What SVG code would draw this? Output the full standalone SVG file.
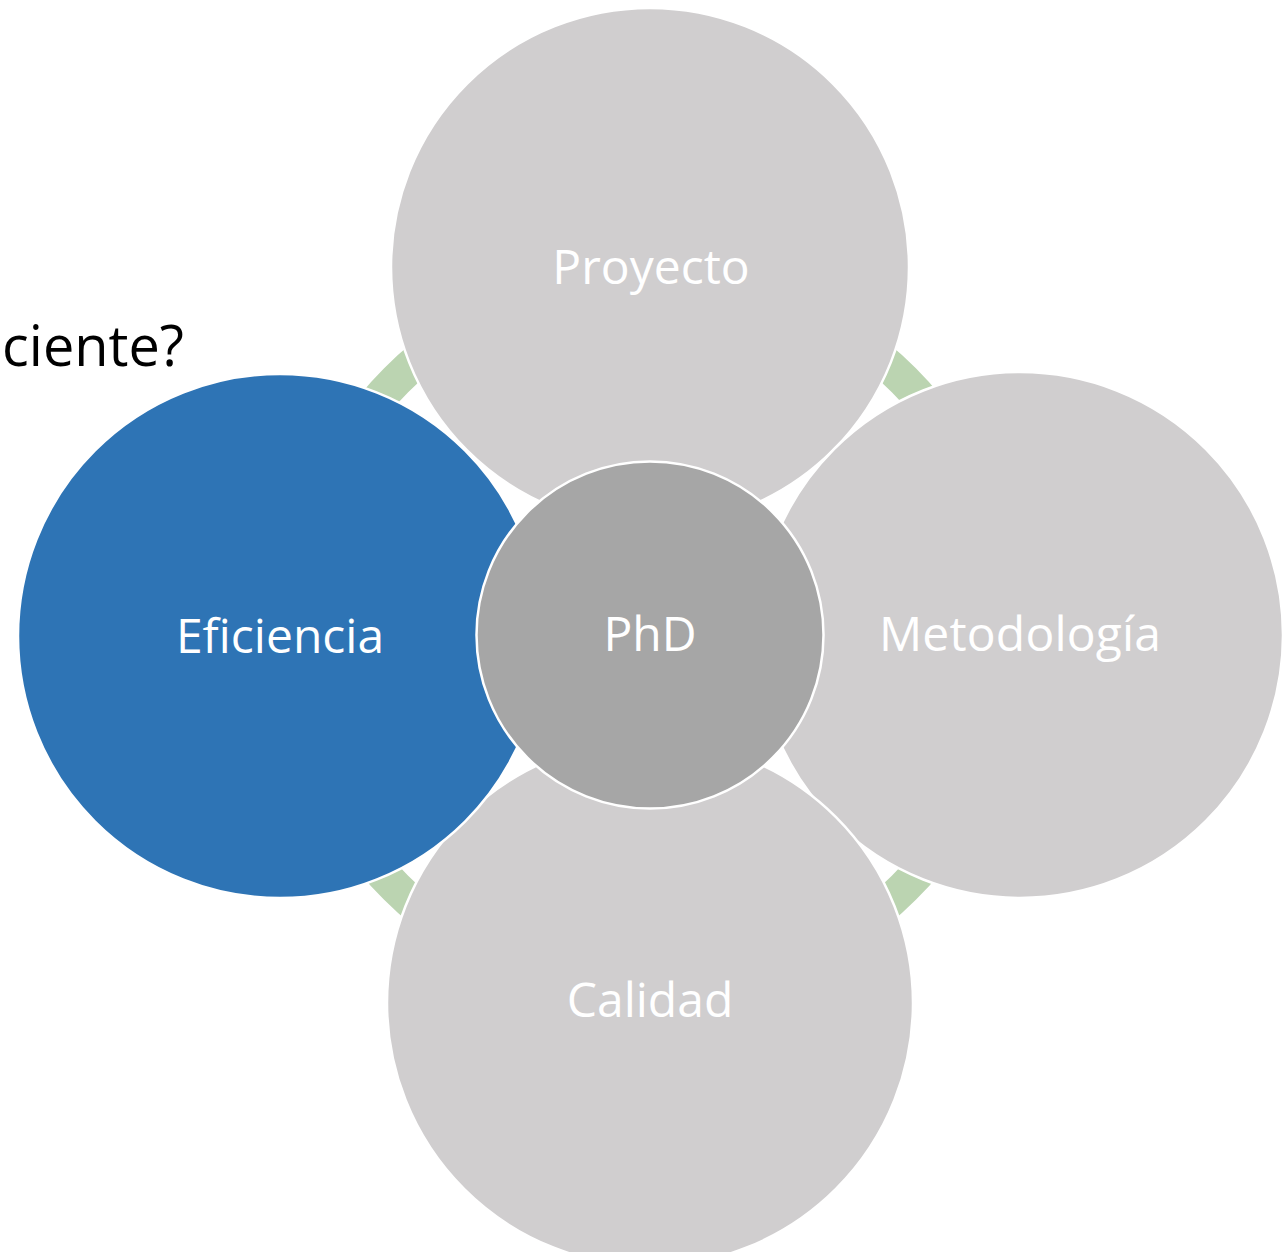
<svg xmlns="http://www.w3.org/2000/svg" width="1283" height="1252" viewBox="0 0 1283 1252">
<style>
.outer{fill:#D0CECF;stroke:#FFFFFF;stroke-width:2.5}
.blue{fill:#2E74B5;stroke:#FFFFFF;stroke-width:2.5}
.center{fill:#A6A6A6;stroke:#FFFFFF;stroke-width:2.5}
.lbl{font-family:"Open Sans","Noto Sans",sans-serif;font-size:48px;fill:#FFFFFF;text-anchor:middle}
.title{font-family:"Open Sans","Noto Sans",sans-serif;font-size:57px;fill:#000000}
</style>
<rect width="1283" height="1252" fill="#FFFFFF"/>
<g id="connectors">
<circle cx="650" cy="634" r="359" fill="none" stroke="#BBD4B1" stroke-width="34"/>
</g>
<g id="node-proyecto">
<circle class="outer" cx="650" cy="267" r="259"/>
<text class="lbl" x="651" y="284">Proyecto</text>
</g>
<g id="node-metodologia">
<circle class="outer" cx="1020" cy="635" r="263"/>
<text class="lbl" x="1020" y="651" textLength="282" lengthAdjust="spacing">Metodología</text>
</g>
<g id="node-calidad">
<circle class="outer" cx="650" cy="1003" r="263"/>
<text class="lbl" x="650" y="1017">Calidad</text>
</g>
<g id="node-eficiencia">
<circle class="blue" cx="280" cy="636" r="262"/>
<text class="lbl" x="280" y="653">Eficiencia</text>
</g>
<g id="node-phd">
<circle class="center" cx="650" cy="635" r="173.5"/>
<text class="lbl" x="650" y="651">PhD</text>
</g>
<text class="title" x="2" y="366" textLength="182" lengthAdjust="spacingAndGlyphs">ciente?</text>
</svg>
